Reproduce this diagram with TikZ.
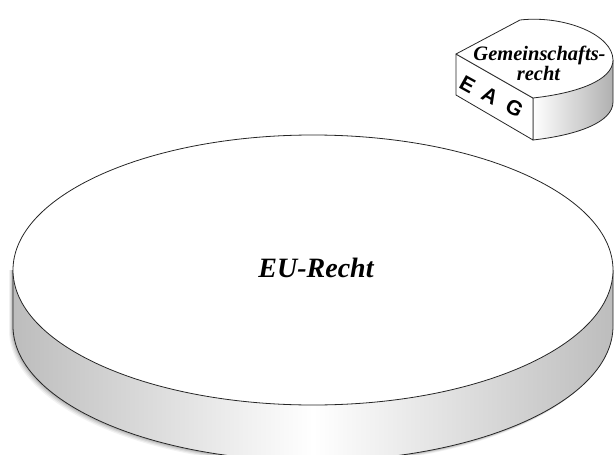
\documentclass[tikz,border=0pt]{standalone}
\usepackage{fontspec}
\setmainfont{Liberation Serif}
\newfontfamily\sansfam{Liberation Sans}
\begin{document}
\begin{tikzpicture}[x=1pt,y=-1pt,line width=0.8pt,line join=round,
  edge/.style={draw=black!85},
  disklabel/.style={font=\bfseries\itshape\fontsize{28}{30}\selectfont,inner sep=0pt,anchor=base},
  toplabel/.style={font=\bfseries\itshape\fontsize{20.5}{22}\selectfont,inner sep=0pt,anchor=base},
  eag/.style={font=\sansfam\bfseries\fontsize{21}{22}\selectfont,inner sep=0pt,rotate=-29}]
\useasboundingbox (0,0) rectangle (614,455);
% ---- big disk ----
\coordinate (dc) at (313,270);
% soft shadow
\foreach \s/\o in {4/0.05,3/0.07,2/0.09,1/0.11}{
  \fill[black,opacity=\o] (13-\s,270) -- ++(0,56+\s) arc[start angle=180,end angle=0,x radius=300,y radius=135]
    -- ++(0,-56) -- cycle;
}
\path[left color=gray!52,right color=gray!52,middle color=white]
  (13,270) -- ++(0,56) arc[start angle=180,end angle=0,x radius=300,y radius=135]
  -- ++(0,-56) arc[start angle=0,end angle=180,x radius=300,y radius=135] -- cycle;
\draw[edge] (13,270) -- ++(0,56) arc[start angle=180,end angle=0,x radius=300,y radius=135] -- ++(0,-56);
\draw[edge,fill=white] (dc) ellipse[x radius=300,y radius=135];
\node[disklabel] (eu) at (316,277) {EU-Recht};
% ---- small piece ----
\coordinate (A) at (456,54);
\coordinate (B) at (533,98);
\coordinate (C) at (520,20);
\coordinate (R) at (613,60);
\coordinate (Bb) at (533,140);
\coordinate (Rb) at (613,102);
\coordinate (Ab) at (456,95);
% curved side
\path[left color=white,right color=gray!62]
  (B) -- (Bb) .. controls (578,135) and (613,122) .. (Rb) -- (R)
  .. controls (613,80) and (578,93) .. (B) -- cycle;
\draw[edge] (B) -- (Bb) .. controls (578,135) and (613,122) .. (Rb) -- (R);
% left face
\draw[edge,fill=white] (A) -- (B) -- (Bb) -- (Ab) -- cycle;
% top face
\draw[edge,fill=white] (A) -- (B) .. controls (578,93) and (613,80) .. (R)
  .. controls (613,35) and (565,15) .. (C) -- cycle;
\node[toplabel] (g1) at (539.5,60) {Gemeinschafts-};
\node[toplabel] (g2) at (538.5,80) {recht};
\node[eag] (e) at (467.5,84.5) {E};
\node[eag] (a) at (490,96) {A};
\node[eag] (g) at (514.5,108) {G};
\end{tikzpicture}
\end{document}
